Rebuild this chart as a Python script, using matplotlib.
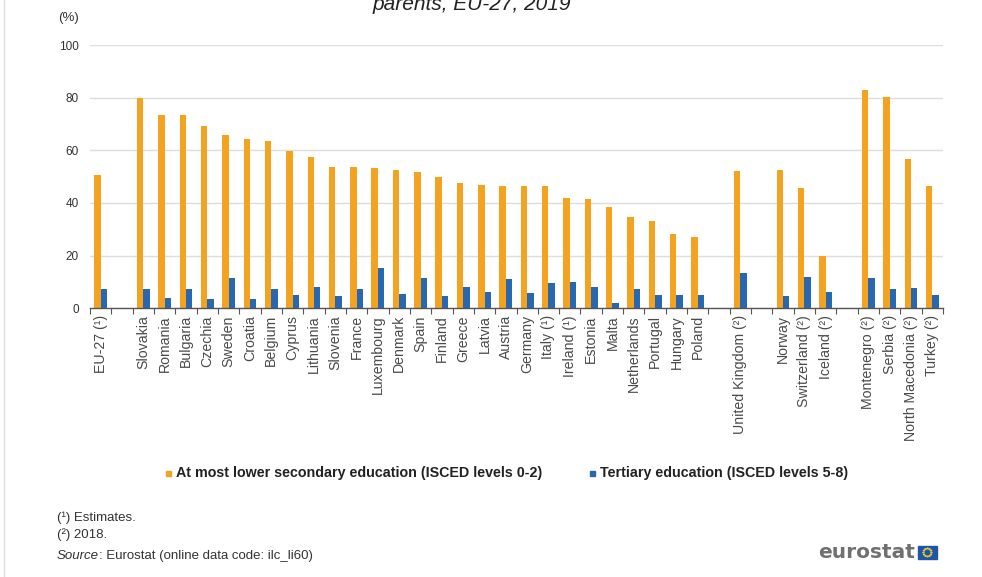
import matplotlib
matplotlib.use("Agg")
import matplotlib.pyplot as plt
from matplotlib.patches import Rectangle, Circle
import numpy as np

plt.rcParams['font.family'] = ['Liberation Sans', 'DejaVu Sans']

# Countries in display order; None marks an empty spacer slot between groups
categories = [
    "EU-27 (¹)", None,
    "Slovakia", "Romania", "Bulgaria", "Czechia", "Sweden", "Croatia", "Belgium",
    "Cyprus", "Lithuania", "Slovenia", "France", "Luxembourg", "Denmark", "Spain",
    "Finland", "Greece", "Latvia", "Austria", "Germany", "Italy (¹)", "Ireland (¹)",
    "Estonia", "Malta", "Netherlands", "Portugal", "Hungary", "Poland", None,
    "United Kingdom (²)", None,
    "Norway", "Switzerland (²)", "Iceland (²)", None,
    "Montenegro (²)", "Serbia (²)", "North Macedonia (²)", "Turkey (²)",
]

lower_secondary = [
    50.6, None,
    79.9, 73.4, 73.4, 69.2, 65.8, 64.2, 63.4,
    59.9, 57.6, 53.8, 53.8, 53.2, 52.5, 51.6,
    50.0, 47.7, 47.0, 46.6, 46.6, 46.6, 41.8,
    41.4, 38.6, 34.8, 33.2, 28.3, 27.0, None,
    52.2, None,
    52.4, 45.8, 20.0, None,
    82.9, 80.4, 56.8, 46.6,
]

tertiary = [
    7.5, None,
    7.3, 4.1, 7.5, 3.7, 11.6, 3.4, 7.2,
    5.1, 8.1, 4.7, 7.5, 15.2, 5.3, 11.5,
    4.7, 8.0, 6.1, 11.1, 5.7, 9.5, 10.1,
    8.0, 2.2, 7.2, 4.9, 4.9, 5.2, None,
    13.5, None,
    4.8, 12.0, 6.2, None,
    11.4, 7.2, 7.6, 5.2,
]

y_ticks = [0, 20, 40, 60, 80, 100]

ORANGE = "#F4A321"
BLUE = "#2768B0"

fig = plt.figure(figsize=(9.82, 5.77), dpi=100)
W, H = 982, 577

def fx(px):
    return px / W

def fy(py):
    return 1 - py / H

ax = fig.add_axes([fx(90), fy(308.3), fx(943) - fx(90), fy(45) - fy(308.3)])

idx = [i for i, c in enumerate(categories) if c is not None]
pos = np.array(idx, dtype=float)
low_vals = [lower_secondary[i] for i in idx]
ter_vals = [tertiary[i] for i in idx]

bw = 0.3
ax.bar(pos - bw / 2, low_vals, width=bw, color=ORANGE, zorder=3)
ax.bar(pos + bw / 2, ter_vals, width=bw, color=BLUE, zorder=3)

n = len(categories)
ax.set_xlim(-0.5, n - 0.5)
ax.set_ylim(0, 100)

ax.set_yticks(y_ticks)
ax.set_yticklabels([str(t) for t in y_ticks], fontsize=8.5, color="#333333")
ax.yaxis.grid(True, color="#dddddd", linewidth=1, zorder=0)
ax.tick_params(axis="y", length=0, pad=8)

# category labels at slot centres, tick marks at slot boundaries
ax.set_xticks(pos)
ax.set_xticklabels([categories[i] for i in idx], rotation=90, fontsize=10.2,
                   color="#4a4a4a")
ax.tick_params(axis="x", which="major", length=0, pad=5)
ax.set_xticks(np.arange(-0.5, n, 1.0), minor=True)
ax.tick_params(axis="x", which="minor", length=4, color="#555555", width=0.8)

for side in ["top", "right", "left"]:
    ax.spines[side].set_visible(False)
ax.spines["bottom"].set_color("#555555")
ax.spines["bottom"].set_linewidth(1.0)
ax.spines["bottom"].set_zorder(4)

# unit label
fig.text(fx(58), fy(18), "(%)", fontsize=9.5, color="#333333", va="center", ha="left")

# title line (partly above the canvas edge)
fig.text(fx(472), fy(10), "parents, EU-27, 2019", fontsize=15, style="italic",
         color="#222222", ha="center", va="baseline")

# legend
sq = 5
fig.patches.append(Rectangle((fx(166), fy(476)), sq / W, sq / H, color=ORANGE,
                             transform=fig.transFigure, figure=fig))
fig.text(fx(176), fy(473), "At most lower secondary education (ISCED levels 0-2)",
         fontsize=10.3, fontweight="bold", color="#222222", va="center", ha="left")
fig.patches.append(Rectangle((fx(590), fy(476)), sq / W, sq / H, color=BLUE,
                             transform=fig.transFigure, figure=fig))
fig.text(fx(600), fy(473), "Tertiary education (ISCED levels 5-8)",
         fontsize=10.3, fontweight="bold", color="#222222", va="center", ha="left")

# footnotes
fig.text(fx(57), fy(518), "(¹) Estimates.", fontsize=9.5, color="#333333", va="center")
fig.text(fx(57), fy(535), "(²) 2018.", fontsize=9.5, color="#333333", va="center")
src = fig.text(fx(57), fy(556), "Source", fontsize=9.5, style="italic",
               color="#333333", va="center")
fig.canvas.draw()
bb = src.get_window_extent()
fig.text(bb.x1 / W, fy(556), ": Eurostat (online data code: ilc_li60)", fontsize=9.5,
         color="#333333", va="center")

# eurostat logo
fig.text(fx(915), fy(552), "eurostat", fontsize=14.5, fontweight="bold",
         family="DejaVu Sans", color="#707070", ha="right", va="center")
flag_x, flag_y, flag_w, flag_h = 918, 559, 19, 13
fig.patches.append(Rectangle((fx(flag_x), fy(flag_y)), flag_w / W, flag_h / H,
                             color="#1E55A5", transform=fig.transFigure, figure=fig))
cx, cy = flag_x + flag_w / 2, flag_y - flag_h / 2
for k in range(12):
    a = 2 * np.pi * k / 12
    sx = cx + 4.0 * np.cos(a)
    sy = cy + 4.0 * np.sin(a)
    fig.patches.append(Circle((fx(sx), fy(sy)), 0.5 / W, color="#F5D328",
                              transform=fig.transFigure, figure=fig))

# left frame line
fig.add_artist(plt.Line2D([fx(4), fx(4)], [0, 1], color="#dddddd", linewidth=1,
                          transform=fig.transFigure))

fig.savefig("out.png", dpi=100, facecolor="white")
